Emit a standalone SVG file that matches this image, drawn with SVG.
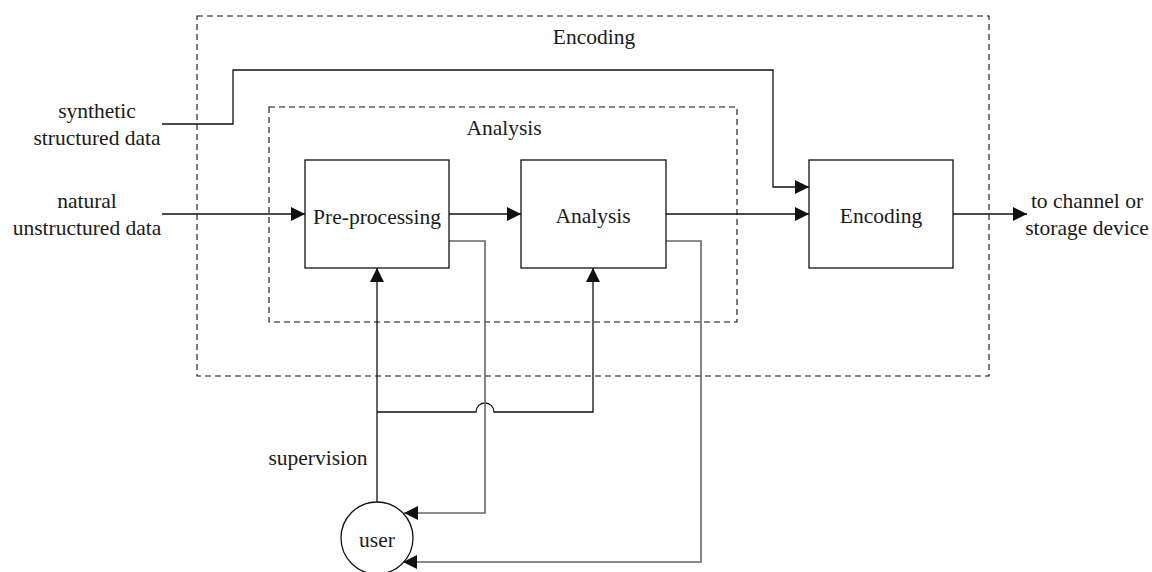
<svg xmlns="http://www.w3.org/2000/svg" width="1152" height="572" viewBox="0 0 1152 572">
  <style>
    text { font-family: "Liberation Serif", "Times New Roman", serif; font-size: 21.5px; fill: #1a1a1a; text-anchor: middle; }
    .box { fill: #fff; stroke: #111; stroke-width: 1.3; }
    .frame { fill: none; stroke: #111; stroke-width: 1.1; stroke-dasharray: 6 4; }
    .wire { fill: none; stroke: #111; stroke-width: 1.3; }
    .back { fill: none; stroke: #666; stroke-width: 1.6; }
  </style>
  <defs>
    <marker id="arrow" markerUnits="userSpaceOnUse" markerWidth="14" markerHeight="14" refX="14" refY="7" orient="auto">
      <path d="M0,0 L14,7 L0,14 z" fill="#111"/>
    </marker>
  </defs>
  <rect width="1152" height="572" fill="#fff"/>

  <!-- enclosing stages -->
  <g id="encoding-stage">
    <rect class="frame" x="197" y="16" width="792" height="360"/>
    <text x="594" y="44">Encoding</text>
  </g>
  <g id="analysis-stage">
    <rect class="frame" x="269" y="107" width="468" height="215"/>
    <text x="504" y="135">Analysis</text>
  </g>

  <!-- connectors -->
  <g id="connectors">
    <path class="wire" d="M162,124 H233 V70 H773 V187 H809" marker-end="url(#arrow)"/>
    <path class="wire" d="M162,214 H305" marker-end="url(#arrow)"/>
    <path class="wire" d="M449,214 H521" marker-end="url(#arrow)"/>
    <path class="wire" d="M666,214 H809" marker-end="url(#arrow)"/>
    <path class="wire" d="M953,214 H1027" marker-end="url(#arrow)"/>
    <path class="wire" d="M377,502 V268" marker-end="url(#arrow)"/>
    <path class="wire" d="M377,412 H476 A9,9 0 0 1 494,412 H593 V268" marker-end="url(#arrow)"/>
    <path class="back" d="M449,241 H485 V513 H404" marker-end="url(#arrow)"/>
    <path class="back" d="M666,241 H701 V562 H403" marker-end="url(#arrow)"/>
  </g>

  <!-- processing blocks -->
  <g id="preprocessing">
    <rect class="box" x="305" y="160" width="144" height="108"/>
    <text x="377" y="224">Pre-processing</text>
  </g>
  <g id="analysis">
    <rect class="box" x="521" y="160" width="145" height="108"/>
    <text x="593" y="223">Analysis</text>
  </g>
  <g id="encoding">
    <rect class="box" x="809" y="160" width="144" height="108"/>
    <text x="881" y="223">Encoding</text>
  </g>
  <g id="user">
    <circle cx="377" cy="538" r="36" fill="#fff" stroke="#111" stroke-width="1.3"/>
    <text x="377" y="547">user</text>
  </g>

  <!-- external labels -->
  <g id="synthetic-input">
    <text x="97" y="118">synthetic</text>
    <text x="97" y="145">structured data</text>
  </g>
  <g id="natural-input">
    <text x="87" y="208">natural</text>
    <text x="87" y="235">unstructured data</text>
  </g>
  <g id="output">
    <text x="1087" y="208">to channel or</text>
    <text x="1087" y="235">storage device</text>
  </g>
  <g id="supervision-label">
    <text x="318" y="465">supervision</text>
  </g>
</svg>
